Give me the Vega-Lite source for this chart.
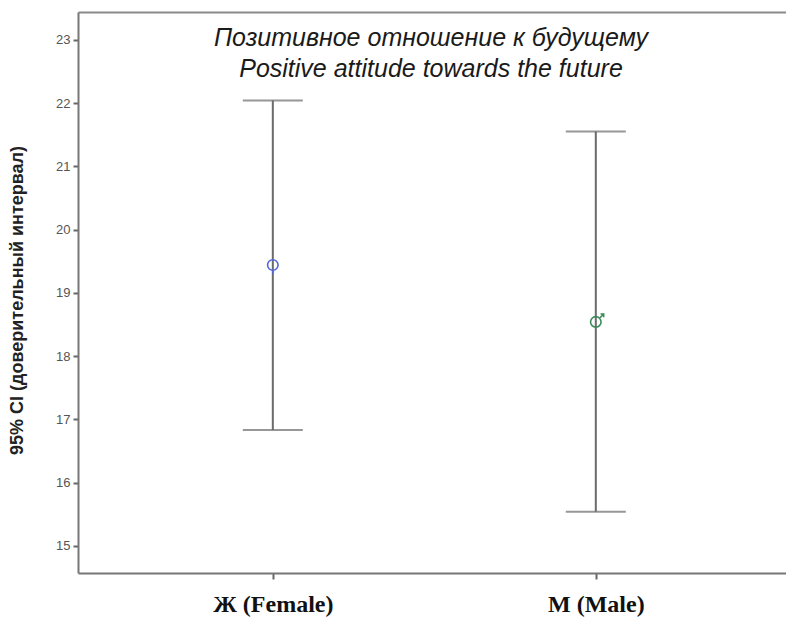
{
  "$schema": "https://vega.github.io/schema/vega-lite/v6.json",
  "width": 708,
  "height": 561,
  "autosize": {"type": "none"},
  "padding": {"left": 78, "top": 12, "right": 0, "bottom": 52},
  "background": "#ffffff",
  "config": {
    "view": {"stroke": null},
    "axis": {"grid": false}
  },
  "title": {
    "text": ["Позитивное отношение к будущему", "Positive attitude towards the future"],
    "font": "Liberation Sans",
    "fontSize": 25,
    "fontStyle": "italic",
    "fontWeight": "normal",
    "color": "#1a1a1a",
    "anchor": "middle",
    "frame": "group",
    "orient": "top",
    "offset": -70,
    "lineHeight": 31,
    "dx": -1
  },
  "data": {
    "values": [
      {"sex": "Ж (Female)", "mean": 19.44, "lower": 16.83, "upper": 22.04},
      {"sex": "М (Male)", "mean": 18.54, "lower": 15.54, "upper": 21.55}
    ]
  },
  "resolve": {"axis": {"x": "independent"}},
  "layer": [
    {
      "mark": {"type": "rule", "color": "#6b6b6b", "strokeWidth": 2},
      "encoding": {
        "x": {
          "field": "sex",
          "type": "nominal",
          "sort": null,
          "scale": {"type": "point", "padding": 0.596, "align": 0.506},
          "axis": {
            "title": null,
            "labelAngle": 0,
            "labelFont": "Liberation Serif",
            "labelFontSize": 24,
            "labelFontWeight": "bold",
            "labelColor": "#111111",
            "labelPadding": 13,
            "tickSize": 6,
            "tickColor": "#666666",
            "tickWidth": 2,
            "domainColor": "#777777",
            "domainWidth": 2
          }
        },
        "y": {
          "field": "lower",
          "type": "quantitative",
          "scale": {"domain": [14.57, 23.44], "nice": false, "zero": false},
          "axis": {
            "title": "95% CI (доверительный интервал)",
            "titleFont": "Liberation Sans",
            "titleFontSize": 18,
            "titleFontWeight": "bold",
            "titleColor": "#222222",
            "titlePadding": 29,
            "titleY": 288,
            "values": [15, 16, 17, 18, 19, 20, 21, 22, 23],
            "format": "d",
            "labelFont": "Liberation Sans",
            "labelFontSize": 13,
            "labelColor": "#555555",
            "labelPadding": 3,
            "tickSize": 5,
            "tickColor": "#666666",
            "tickWidth": 2,
            "domainColor": "#777777",
            "domainWidth": 2
          }
        },
        "y2": {"field": "upper"}
      }
    },
    {
      "mark": {"type": "tick", "color": "#6b6b6b", "thickness": 2, "size": 60, "orient": "horizontal"},
      "encoding": {
        "x": {
          "field": "sex",
          "type": "nominal",
          "sort": null,
          "axis": {
            "orient": "top",
            "title": null,
            "labels": false,
            "ticks": false,
            "domainColor": "#8a8a8a",
            "domainWidth": 2
          }
        },
        "y": {"field": "lower", "type": "quantitative"}
      }
    },
    {
      "mark": {"type": "tick", "color": "#6b6b6b", "thickness": 2, "size": 60, "orient": "horizontal"},
      "encoding": {
        "x": {"field": "sex", "type": "nominal", "sort": null, "axis": null},
        "y": {"field": "upper", "type": "quantitative"}
      }
    },
    {
      "mark": {"type": "point", "filled": false, "strokeWidth": 1.6, "size": 110, "opacity": 1},
      "encoding": {
        "x": {"field": "sex", "type": "nominal", "sort": null, "axis": null},
        "y": {"field": "mean", "type": "quantitative"},
        "shape": {
          "field": "sex",
          "type": "nominal",
          "scale": {
            "domain": ["Ж (Female)", "М (Male)"],
            "range": [
              "M0,-1A1,1 0 1,1 0,1A1,1 0 1,1 0,-1M0,1L0,1.7",
              "M0,-1A1,1 0 1,1 0,1A1,1 0 1,1 0,-1M0.7,-0.7L1.5,-1.5M0.9,-1.5L1.5,-1.5L1.5,-0.9"
            ]
          },
          "legend": null
        },
        "color": {
          "field": "sex",
          "type": "nominal",
          "scale": {"domain": ["Ж (Female)", "М (Male)"], "range": ["#5468d4", "#3b8a58"]},
          "legend": null
        }
      }
    }
  ]
}
